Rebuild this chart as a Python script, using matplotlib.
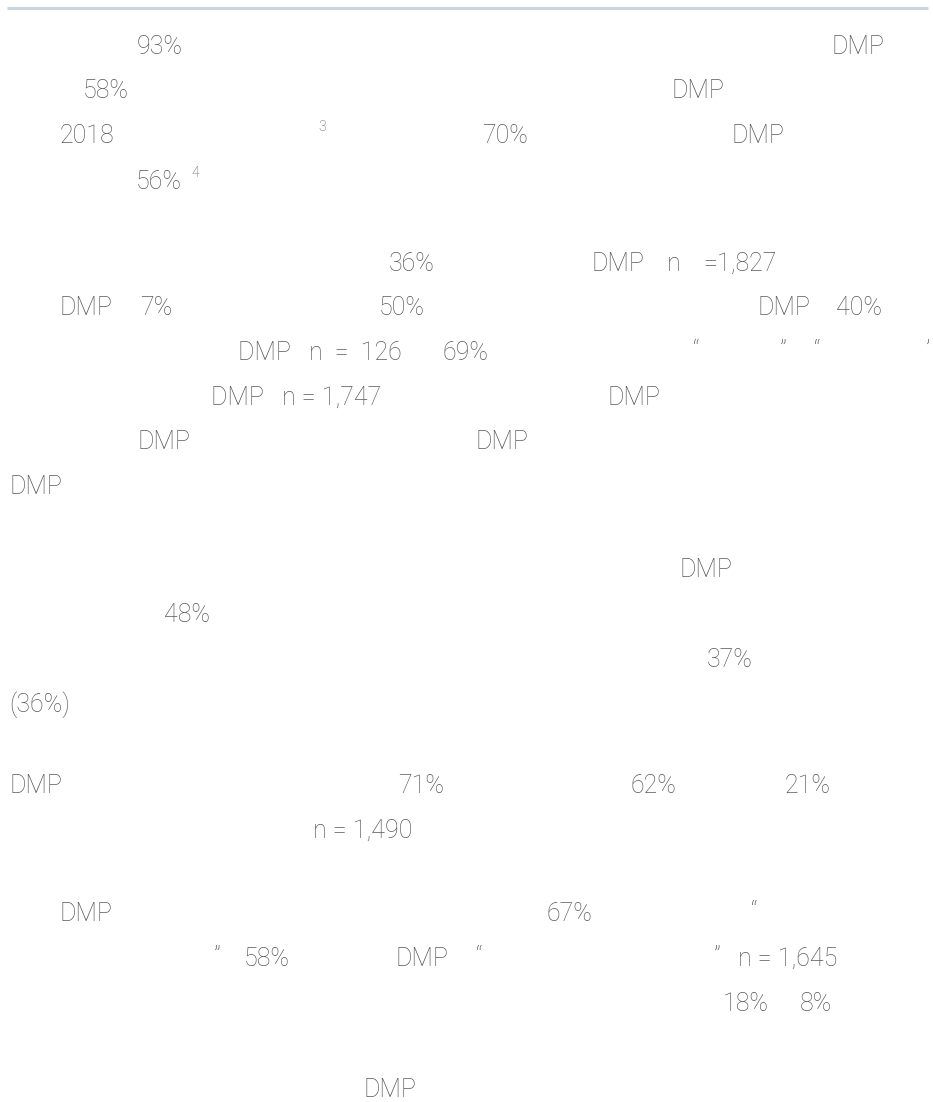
import matplotlib
matplotlib.use("Agg")
import matplotlib.pyplot as plt

# ==============================================================
# Page text (only the Latin parts survive; CJK glyphs are blank)
# ==============================================================
line_y = [45, 89, 134, 180, 262, 306, 351, 396, 440, 485,
          568, 613, 658, 703, 784, 829, 912, 957, 1002, 1088]

frag_text = ["93%", "DMP",
             "58%", "DMP",
             "2018", "70%", "DMP",
             "56%",
             "36%", "DMP", "n", "=1,827",
             "DMP", "7%", "50%", "DMP", "40%",
             "DMP   n  =  126", "69%", "\u201c", "\u201d", "\u201c", "\u2019",
             "DMP   n = 1,747", "DMP",
             "DMP", "DMP",
             "DMP",
             "DMP",
             "48%",
             "37%",
             "(36%)",
             "DMP", "71%", "62%", "21%",
             "n = 1,490",
             "DMP", "67%", "\u201c",
             "\u201d", "58%", "DMP", "\u201c", "\u201d", "n = 1,645",
             "18%", "8%",
             "DMP"]
frag_x = [137, 832,
          83, 671,
          60, 482, 732,
          136,
          389, 592, 667, 703,
          60, 140, 379, 757, 836,
          238, 443, 693, 780, 814, 926,
          211, 607,
          137, 476,
          9,
          679,
          164,
          707,
          9,
          9, 398, 630, 785,
          313,
          60, 546, 751,
          214, 244, 396, 476, 714, 738,
          723, 800,
          363]
frag_line = [0, 0,
             1, 1,
             2, 2, 2,
             3,
             4, 4, 4, 4,
             5, 5, 5, 5, 5,
             6, 6, 6, 6, 6, 6,
             7, 7,
             8, 8,
             9,
             10,
             11,
             12,
             13,
             14, 14, 14, 14,
             15,
             16, 16, 16,
             17, 17, 17, 17, 17, 17,
             18, 18,
             19]

# footnote markers
sup_text = ["3", "4"]
sup_x = [318, 191]
sup_line = [2, 3]

W, H = 933, 1102
fig = plt.figure(figsize=(W / 100, H / 100), dpi=100)
ax = fig.add_axes([0, 0, 1, 1])
ax.set_xlim(0, W)
ax.set_ylim(H, 0)
ax.axis("off")

font = dict(family=["Roboto", "DejaVu Sans"], weight="light", color="#595959")

# rule at the top of the page
ax.plot([7, 928], [8, 8], color="#c9d6df", lw=2.2, solid_capstyle="butt")

for s, x, li in zip(frag_text, frag_x, frag_line):
    size = 20 if s in "\u201c\u201d\u2019" else 18
    ax.text(x, line_y[li] + 9, s, fontsize=size, ha="left", va="baseline", **font)

for s, x, li in zip(sup_text, sup_x, sup_line):
    ax.text(x, line_y[li] - 3, s, fontsize=10, ha="left", va="baseline", **font)

fig.savefig("out.png", dpi=100)
